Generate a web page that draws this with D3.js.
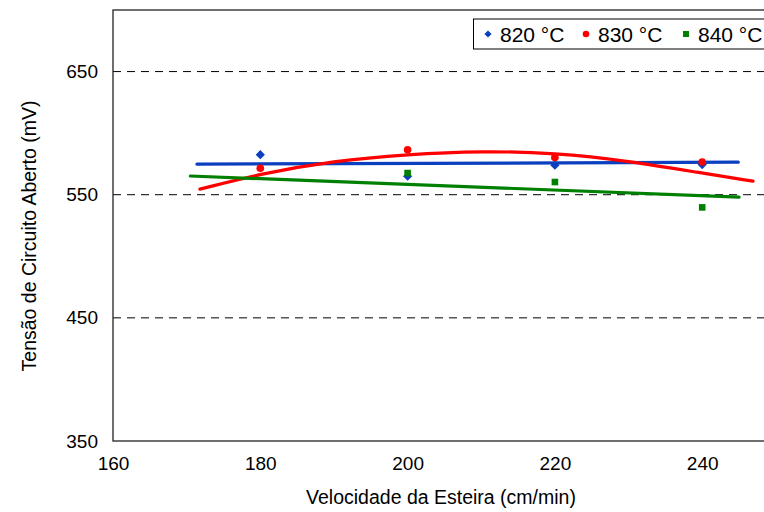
<!DOCTYPE html>
<html>
<head>
<meta charset="utf-8">
<script src="https://cdn.jsdelivr.net/npm/d3@7"></script>
<style>
  html, body { margin: 0; padding: 0; background: #fff; }
  svg { display: block; font-family: "Liberation Sans", Arial, sans-serif; }
</style>
</head>
<body>
<svg id="chart" width="764" height="512"></svg>
<script>
// Belt speed (cm/min) and open-circuit voltage (mV) per firing temperature
const speeds = [180, 200, 220, 240];
const seriesNames = ["820 °C", "830 °C", "840 °C"];
const v820 = [582.5, 565.0, 574.0, 574.5];
const v830 = [571.5, 586.5, 580.3, 576.6];
const v840 = [null, 567.6, 560.3, 539.7];

// Trend curves (speed, mV)
const trend820 = [[171.4, 574.8], [244.9, 576.4]];
const trend830 = [[171.8, 554.5], [180, 567.0], [190, 577.5], [200, 582.8], [210, 585.5],
                  [220, 584.0], [230, 577.5], [240, 567.5], [246.9, 561.0]];
const trend840 = [[170.5, 565.2], [245.0, 548.0]];

const xTicks = [160, 180, 200, 220, 240];
const yTicks = [350, 450, 550, 650];
const gridValues = [450, 550, 650];

const colors = ["#0a3fbf", "#ff0000", "#008000"];

const svg = d3.select("#chart");
const x = d3.scaleLinear().domain([160, 260]).range([113, 849.5]);
const y = d3.scaleLinear().domain([350, 700]).range([441, 10]);

// dashed gridlines
svg.append("g").selectAll("line").data(gridValues).join("line")
  .attr("x1", x(160)).attr("x2", x(260))
  .attr("y1", d => y(d)).attr("y2", d => y(d))
  .attr("stroke", "#000").attr("stroke-width", 1)
  .attr("stroke-dasharray", "8,6");

// plot frame
svg.append("rect")
  .attr("x", x(160)).attr("y", y(700))
  .attr("width", x(260) - x(160)).attr("height", y(350) - y(700))
  .attr("fill", "none").attr("stroke", "#222").attr("stroke-width", 1.3);

// axes (labels only)
const xAxis = d3.axisBottom(x).tickValues(xTicks).tickSize(0).tickPadding(16).tickFormat(d3.format("d"));
const yAxis = d3.axisLeft(y).tickValues(yTicks).tickSize(0).tickPadding(15).tickFormat(d3.format("d"));
const gx = svg.append("g").attr("transform", `translate(0,${y(350)})`).call(xAxis);
const gy = svg.append("g").attr("transform", `translate(${x(160)},0)`).call(yAxis);
[gx, gy].forEach(g => {
  g.select(".domain").remove();
  g.selectAll("text").attr("font-size", 19).attr("fill", "#000")
    .attr("font-family", "Liberation Sans, Arial, sans-serif");
});

// axis titles
svg.append("text")
  .attr("x", 441).attr("y", 504)
  .attr("text-anchor", "middle").attr("font-size", 19.5)
  .text("Velocidade da Esteira (cm/min)");
svg.append("text")
  .attr("transform", "translate(36,236) rotate(-90)")
  .attr("text-anchor", "middle").attr("font-size", 19.5)
  .text("Tensão de Circuito Aberto (mV)");

// trend curves
const line = d3.line().x(d => x(d[0])).y(d => y(d[1])).curve(d3.curveBasis);
[trend820, trend830, trend840].forEach((t, i) => {
  svg.append("path").datum(t)
    .attr("d", line)
    .attr("fill", "none").attr("stroke", colors[i])
    .attr("stroke-width", 3.2).attr("stroke-linecap", "round");
});

// markers
const diamond = "M0,-4.6L4.6,0L0,4.6L-4.6,0Z";
const circle = d3.symbol().type(d3.symbolCircle).size(46)();
const square = "M-3.3,-3.3H3.3V3.3H-3.3Z";
const shapes = [diamond, circle, square];
[v820, v830, v840].forEach((vals, i) => {
  const pts = vals.map((v, j) => [speeds[j], v]).filter(p => p[1] != null);
  svg.append("g").selectAll("path").data(pts).join("path")
    .attr("d", shapes[i])
    .attr("transform", d => `translate(${x(d[0])},${y(d[1])})`)
    .attr("fill", colors[i]);
});

// legend
const legend = svg.append("g");
legend.append("rect")
  .attr("x", 473.5).attr("y", 19).attr("width", 320).attr("height", 30)
  .attr("fill", "#fff").attr("stroke", "#000").attr("stroke-width", 1);
const legendX = [488, 586, 686];
seriesNames.forEach((name, i) => {
  const sym = i === 0 ? "M0,-3.6L3.6,0L0,3.6L-3.6,0Z"
            : i === 1 ? d3.symbol().type(d3.symbolCircle).size(34)()
            : "M-3,-3H3V3H-3Z";
  legend.append("path").attr("d", sym)
    .attr("transform", `translate(${legendX[i]},34)`).attr("fill", colors[i]);
  legend.append("text")
    .attr("x", legendX[i] + 12).attr("y", 41.5)
    .attr("font-size", 21).text(name);
});
</script>
</body>
</html>
